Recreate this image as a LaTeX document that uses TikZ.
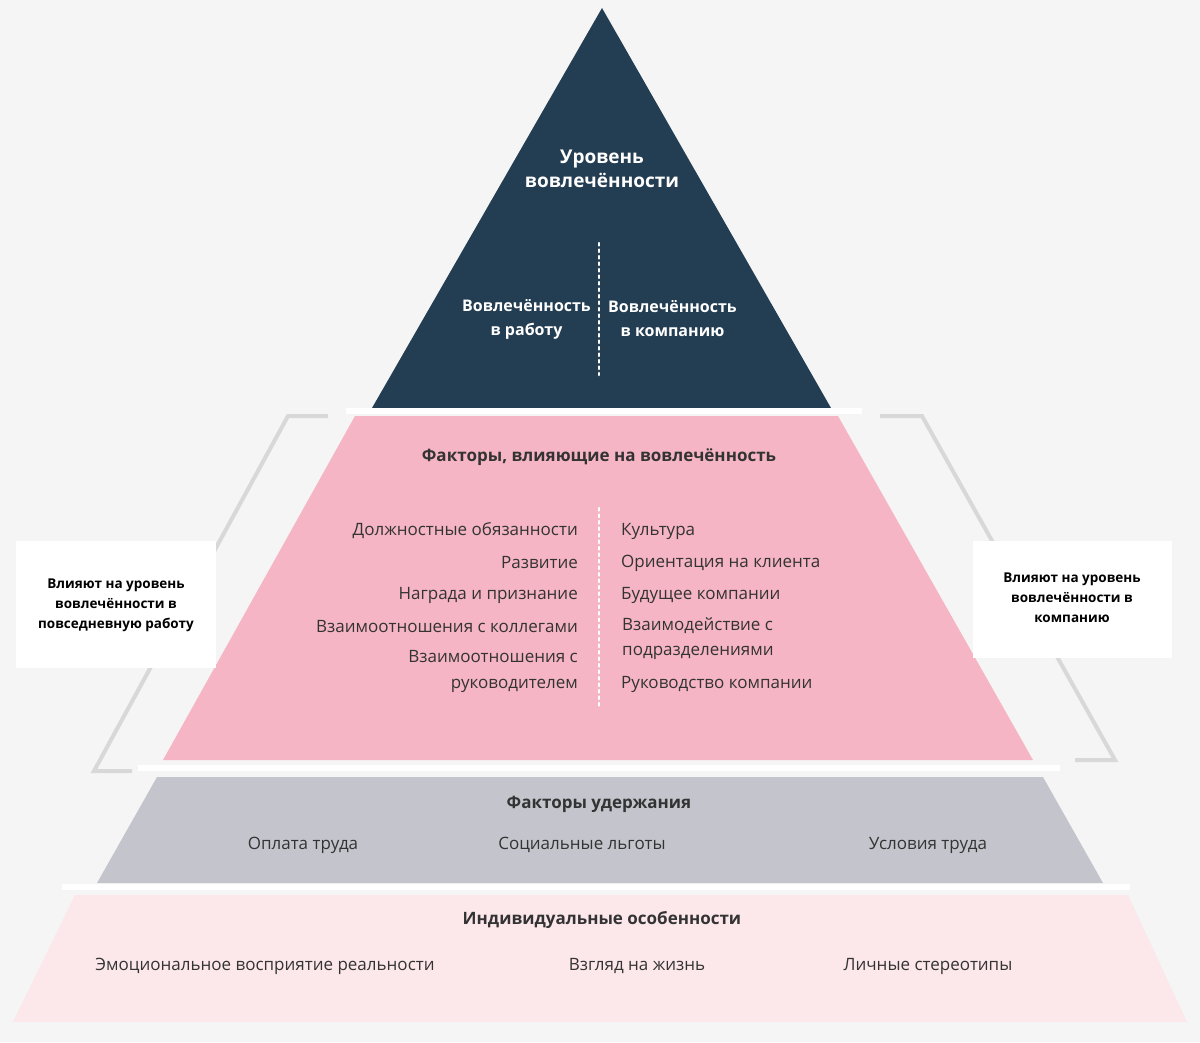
\documentclass[tikz,border=0pt]{standalone}
\usepackage{fontspec}
\setmainfont{Open Sans}
\definecolor{bg}{HTML}{F5F5F5}
\definecolor{navy}{HTML}{233D52}
\definecolor{pinkA}{HTML}{F5B5C4}
\definecolor{grayA}{HTML}{C4C5CC}
\definecolor{pinkB}{HTML}{FCE7EA}
\definecolor{txt}{HTML}{333333}
\definecolor{brk}{HTML}{D8D8D8}
\tikzset{
  t/.style={text=txt,font=\fontsize{17}{21}\selectfont,inner sep=0pt},
  tb/.style={text=txt,font=\fontsize{17}{21}\selectfont\bfseries,inner sep=0pt},
  tw/.style={text=white,font=\fontsize{16}{24}\selectfont\bfseries,inner sep=0pt,align=center},
  box/.style={fill=white,draw=none},
  bt/.style={text=black,font=\fontsize{13.5}{20}\selectfont\bfseries,align=center,inner sep=0pt},
  sep/.style={white,line width=6pt},
  br/.style={brk,line width=4pt},
  dots/.style={white,line width=2.5pt,dash pattern=on 2.5pt off 4pt,line cap=round}
}
\begin{document}
\begin{tikzpicture}[x=1pt,y=-1pt]
\fill[bg] (0,0) rectangle (1200,1042);
\useasboundingbox (0,0) rectangle (1200,1042);
% brackets
\draw[br] (328,416) -- (288,416) -- (94,771) -- (132,771);
\draw[br] (880,416) -- (922,416) -- (1115,760) -- (1075,760);
% layers
\fill[navy] (602,8) -- (831,408) -- (372,408) -- cycle;
\fill[pinkA] (355,416) -- (838,416) -- (1033,760) -- (163,760) -- cycle;
\fill[grayA] (157,777) -- (1043,777) -- (1103,883) -- (97,883) -- cycle;
\fill[pinkB] (75,895) -- (1128,895) -- (1187,1022) -- (13,1022) -- cycle;
\draw[sep] (346,411) -- (862,411);
\draw[sep] (138,768) -- (1060,768);
\draw[sep] (62,887) -- (1130,887);
% dotted
\draw[dots] (599,243) -- (599,375);
\draw[dots] (599,508) -- (599,708);
% top texts
\node[tw,font=\fontsize{19}{24}\selectfont\bfseries] (title) at (602,169) {Уровень\\вовлечённости};
\node[tw,anchor=east] (w1) at (591,319) {Вовлечённость\\в работу};
\node[tw,anchor=west] (w2) at (608,319) {Вовлечённость\\в компанию};
% pink
\node[tb] (ft) at (599,457) {Факторы, влияющие на вовлечённость};
\node[t,anchor=east] (l1) at (578,531) {Должностные обязанности};
\node[t,anchor=east] (l2) at (578,563) {Развитие};
\node[t,anchor=east] (l3) at (578,595) {Награда и признание};
\node[t,anchor=east] (l4) at (578,627) {Взаимоотношения с коллегами};
\node[t,anchor=east,align=right,font=\fontsize{17}{26}\selectfont] (l5) at (578,671) {Взаимоотношения с\\руководителем};
\node[t,anchor=west] (r1) at (621,531) {Культура};
\node[t,anchor=west] (r2) at (621,563) {Ориентация на клиента};
\node[t,anchor=west] (r3) at (621,595) {Будущее компании};
\node[t,anchor=west,align=left,font=\fontsize{17}{25}\selectfont] (r4) at (622,639) {Взаимодействие с\\подразделениями};
\node[t,anchor=west] (r5) at (621,684) {Руководство компании};
% gray
\node[tb] (gt) at (599,804) {Факторы удержания};
\node[t] (g1) at (303,845) {Оплата труда};
\node[t] (g2) at (582,845) {Социальные льготы};
\node[t] (g3) at (928,845) {Условия труда};
% light pink
\node[tb] (pt) at (602,920) {Индивидуальные особенности};
\node[t] (p1) at (265,966) {Эмоциональное восприятие реальности};
\node[t] (p2) at (637,966) {Взгляд на жизнь};
\node[t] (p3) at (928,966) {Личные стереотипы};
% boxes
\fill[box] (16,541) rectangle (216,668);
\fill[box] (973,541) rectangle (1172,658);
\node[bt] (bl) at (116,605) {Влияют на уровень\\вовлечённости в\\повседневную работу};
\node[bt] (brr) at (1072,598) {Влияют на уровень\\вовлечённости в\\компанию};
\end{tikzpicture}
\end{document}
